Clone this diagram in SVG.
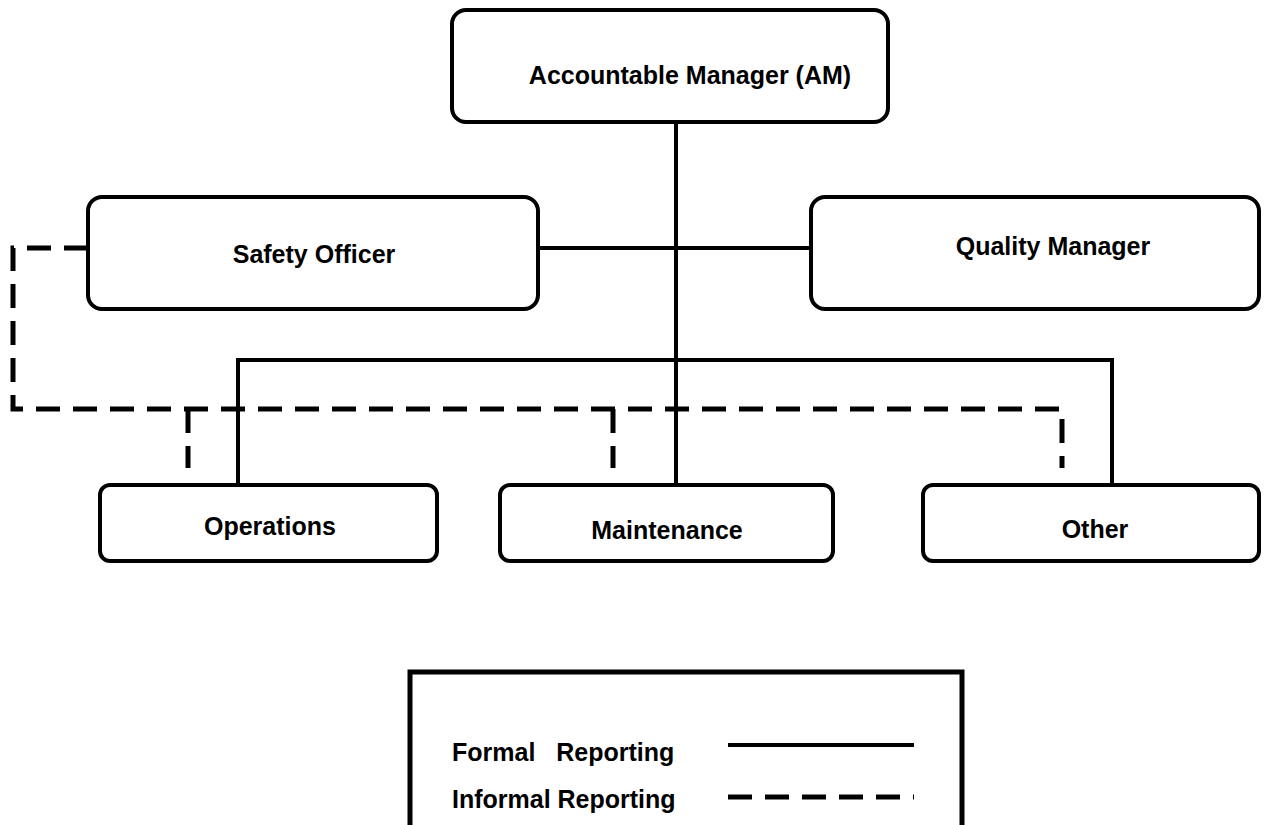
<svg xmlns="http://www.w3.org/2000/svg" width="1266" height="825" viewBox="0 0 1266 825">
<style>
.box{fill:#fff;stroke:#000;stroke-width:4}
.t{font-family:"Liberation Sans",Arial,sans-serif;font-weight:bold;font-size:25px;fill:#000}
.solid{fill:none;stroke:#000;stroke-width:4}
.dash{fill:none;stroke:#000;stroke-width:5;stroke-dasharray:24 13}
</style>
<rect width="1266" height="825" fill="#fff"/>
<g id="connectors">
<path class="solid" d="M676 122V485M538 248H811M238 485V360H1112V485"/>
<path class="dash" d="M88 248H13V409H1062V468"/>
<path class="dash" d="M188 409V468M613 409V468"/>
</g>
<g id="am"><rect class="box" x="452" y="10" width="436" height="112" rx="14"/><text class="t" x="690" y="84" text-anchor="middle">Accountable Manager (AM)</text></g>
<g id="safety"><rect class="box" x="88" y="197" width="450" height="112" rx="14"/><text class="t" x="314" y="263" text-anchor="middle">Safety Officer</text></g>
<g id="quality"><rect class="box" x="811" y="197" width="448" height="112" rx="14"/><text class="t" x="1053" y="255" text-anchor="middle">Quality Manager</text></g>
<g id="operations"><rect class="box" x="100" y="485" width="337" height="76" rx="10"/><text class="t" x="270" y="535" text-anchor="middle">Operations</text></g>
<g id="maintenance"><rect class="box" x="500" y="485" width="333" height="76" rx="10"/><text class="t" x="667" y="539" text-anchor="middle">Maintenance</text></g>
<g id="other"><rect class="box" x="923" y="485" width="336" height="76" rx="10"/><text class="t" x="1095" y="538" text-anchor="middle">Other</text></g>
<g id="legend">
<rect x="410" y="672" width="552" height="170" fill="#fff" stroke="#000" stroke-width="5"/>
<text class="t" x="452" y="761" xml:space="preserve">Formal   Reporting</text>
<text class="t" x="452" y="808">Informal Reporting</text>
<path class="solid" d="M728 745H914"/>
<path class="dash" d="M728 797H914"/>
</g>
</svg>
